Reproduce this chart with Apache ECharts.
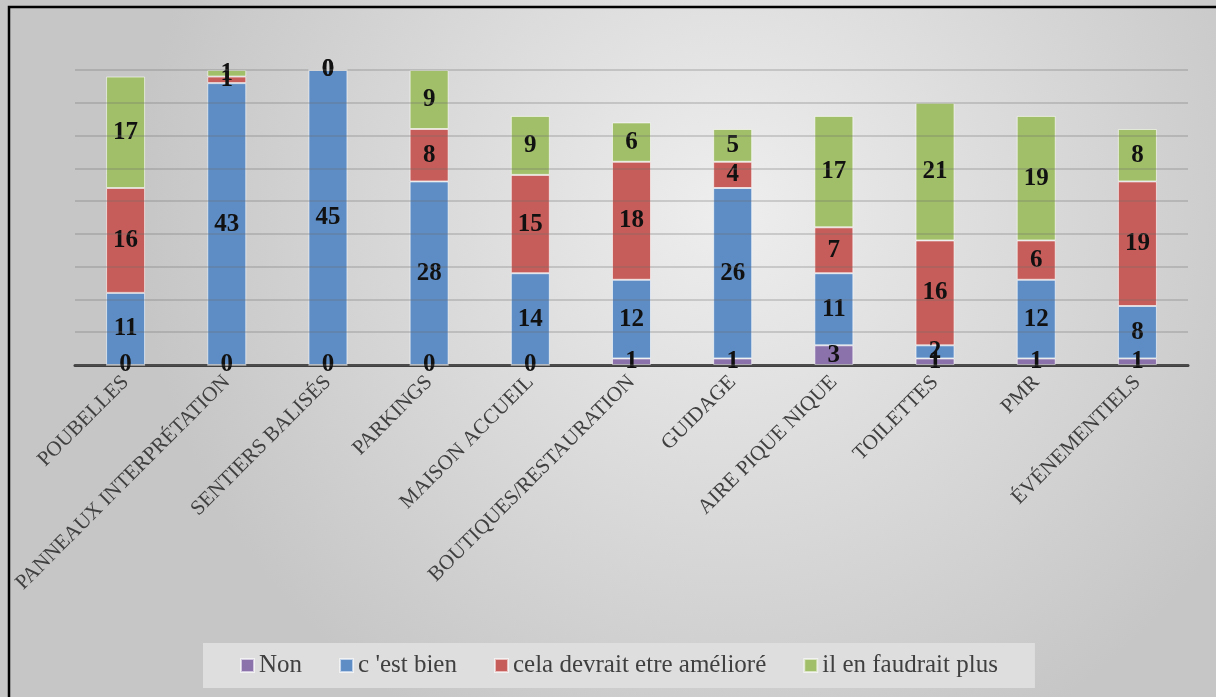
<!DOCTYPE html>
<html><head><meta charset="utf-8">
<script src="https://cdn.jsdelivr.net/npm/echarts@6/dist/echarts.min.js"></script>
<style>html,body{margin:0;padding:0;}#c{width:1216px;height:697px;}</style>
</head><body><div id="c"></div>
<script>
const categories = ['POUBELLES','PANNEAUX INTERPRÉTATION','SENTIERS BALISÉS','PARKINGS','MAISON ACCUEIL','BOUTIQUES/RESTAURATION','GUIDAGE','AIRE PIQUE NIQUE','TOILETTES','PMR','ÉVÉNEMENTIELS'];
const seriesNames = ['Non', "c 'est bien", 'cela devrait etre amélioré', 'il en faudrait plus'];
const non       = [0, 0, 0, 0, 0, 1, 1, 3, 1, 1, 1];
const bien      = [11, 43, 45, 28, 14, 12, 26, 11, 2, 12, 8];
const ameliore  = [16, 1, 0, 8, 15, 18, 4, 7, 16, 6, 19];
const plus      = [17, 1, 0, 9, 9, 6, 5, 17, 21, 19, 8];
const colors = ['#8b72ab', '#5e8dc5', '#c75d5a', '#a1be68'];
const FONT = '"Liberation Serif", "DejaVu Serif", serif';

const chart = echarts.init(document.getElementById('c'));
const values = [non, bien, ameliore, plus];
chart.setOption({
  animation: false,
  backgroundColor: {type:'radial', x:0.6, y:0.3, r:0.85,
    colorStops:[{offset:0,color:'#eeeeee'},{offset:1,color:'#c6c6c6'}]},
  graphic: [{type:'rect', shape:{x:9, y:7, width:1300, height:800},
    style:{fill:'none', stroke:'#000', lineWidth:2.5}, silent:true, z:100}],
  grid: {left:75, right:28, top:70, bottom:332, containLabel:false},
  legend: {
    left: 203, top: 643, itemWidth: 13, itemHeight: 13, itemGap: 37,
    icon: 'rect', padding:[10, 37, 10, 37], backgroundColor: '#dedede',
    textStyle: {fontFamily: FONT, fontSize: 25, color: '#404040'},
    data: seriesNames
  },
  xAxis: {
    type:'category', data: categories,
    axisLine:{lineStyle:{color:'#404040', width:3}},
    axisTick:{show:false},
    axisLabel:{rotate:45, interval:0, fontFamily:FONT, fontSize:21, color:'#404040', margin:14}
  },
  yAxis: {
    type:'value', min:0, max:45, interval:5, z:3,
    axisLabel:{show:false}, axisLine:{show:false}, axisTick:{show:false},
    splitLine:{lineStyle:{color:'rgba(110,110,110,0.35)', width:1.5}}
  },
  series: values.map((v,i)=>({
    name: seriesNames[i], type:'bar', stack:'total', data: v,
    barWidth: 39,
    itemStyle:{color: colors[i], borderColor:'rgba(255,255,255,0.6)', borderWidth:1},
    label:{show:true, position:'inside', fontFamily:FONT, fontWeight:'bold', fontSize:25, color:'#111'}
  }))
});
</script></body></html>
